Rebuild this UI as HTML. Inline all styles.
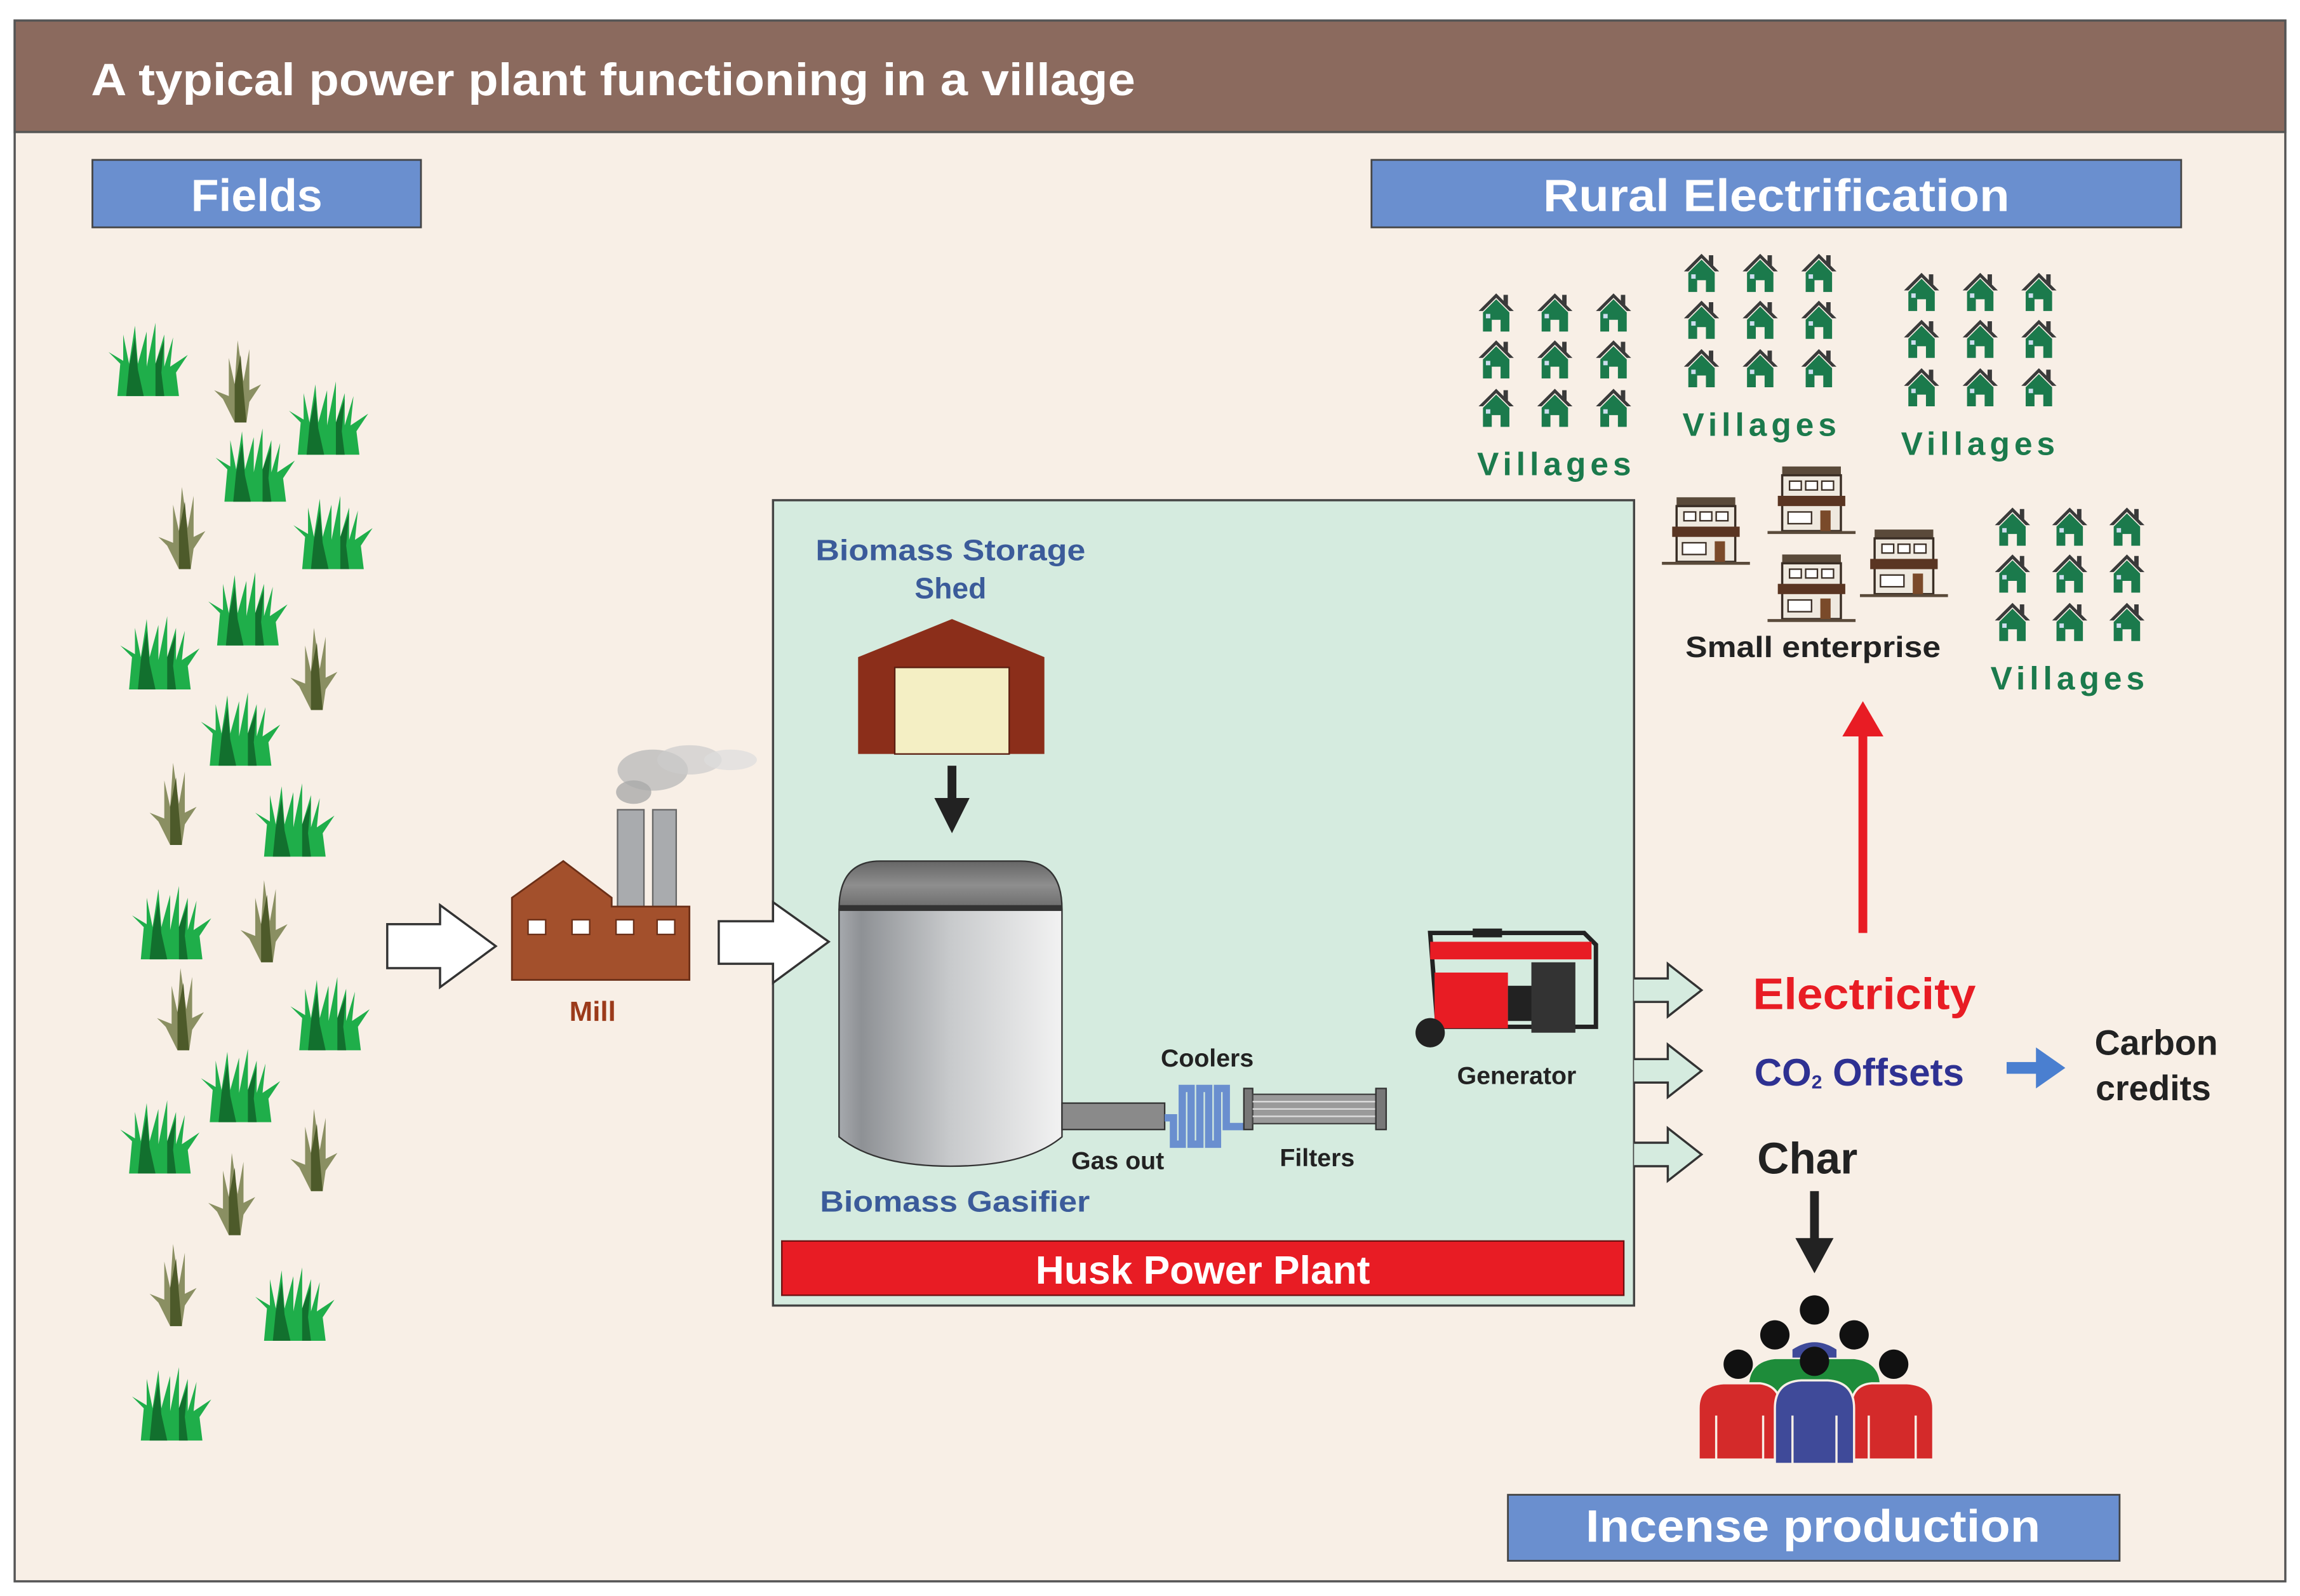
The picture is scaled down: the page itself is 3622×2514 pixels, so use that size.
<!DOCTYPE html>
<html><head><meta charset="utf-8"><style>
html,body{margin:0;padding:0;background:#fff}
svg{display:block}
text{font-family:"Liberation Sans",Arial,sans-serif;font-weight:bold}
</style></head><body>
<svg width="3622" height="2514" viewBox="0 0 1568 1088" preserveAspectRatio="none" xmlns="http://www.w3.org/2000/svg">
<defs>
<symbol id="grass" viewBox="0 0 60 52" overflow="visible">
<path d="M8 52 L10 30 L2 22 L12 28 L12 10 L16 30 L20 4 L22 30 L28 8 L28 32 L34 2 L34 30 L40 10 L40 32 L46 12 L44 32 L56 24 L48 36 L50 52 Z" fill="#1fae4a"/>
<path d="M14 52 L16 32 L20 12 L22 34 L26 52 Z M34 52 L34 30 L40 14 L38 36 L40 52Z" fill="#12702e"/>
</symbol>
<symbol id="reed" viewBox="0 0 40 56" overflow="visible">
<path d="M16 56 L8 40 L2 34 L12 38 L12 12 L16 30 L18 0 L22 28 L26 6 L26 34 L34 30 L26 42 L24 56Z" fill="#8a8f62"/>
<path d="M16 56 L16 30 L20 10 L22 34 L24 56Z" fill="#4d5a2a"/>
</symbol>
<symbol id="house" viewBox="0 0 26 28" overflow="visible">
<path d="M13 1 L1 13 L4 13 L13 4 L22 13 L25 13 Z" fill="#3a3a3a"/>
<rect x="18" y="2" width="3" height="7" fill="#3a3a3a"/>
<path d="M13 5 L4 14 L4 27 L10 27 L10 19 L16 19 L16 27 L22 27 L22 14 Z" fill="#1b7a4c"/>
<rect x="6" y="15" width="3" height="3" fill="#cde"/>
</symbol>
<symbol id="shop" viewBox="0 0 60 48" overflow="visible">
<rect x="10" y="2" width="40" height="6" fill="#5a4a3a"/>
<rect x="10" y="8" width="40" height="38" fill="#efe9df" stroke="#3a2e25" stroke-width="1.5"/>
<rect x="15" y="12" width="8" height="6" fill="#fff" stroke="#3a2e25"/>
<rect x="26" y="12" width="8" height="6" fill="#fff" stroke="#3a2e25"/>
<rect x="37" y="12" width="8" height="6" fill="#fff" stroke="#3a2e25"/>
<rect x="7" y="22" width="46" height="7" fill="#5a3522"/>
<rect x="14" y="33" width="16" height="8" fill="#fff" stroke="#3a2e25"/>
<rect x="36" y="32" width="7" height="14" fill="#7a4a2a"/>
<line x1="0" y1="47" x2="60" y2="47" stroke="#5a4a3a" stroke-width="2"/>
</symbol>
<linearGradient id="tank" x1="0" x2="1"><stop offset="0" stop-color="#a6a9ad"/><stop offset="0.1" stop-color="#8e9195"/><stop offset="0.5" stop-color="#c8cacc"/><stop offset="1" stop-color="#f2f2f2"/></linearGradient>
<linearGradient id="dome" x1="0" y1="0" x2="0" y2="1"><stop offset="0" stop-color="#666"/><stop offset="0.5" stop-color="#8e8e8e"/><stop offset="1" stop-color="#6a6a6a"/></linearGradient>
</defs>
<rect width="1568" height="1088" fill="#fff"/>
<rect x="10" y="14" width="1548" height="1064" fill="#f8efe6" stroke="#555" stroke-width="1.5"/>
<rect x="10" y="14" width="1548" height="76" fill="#8b6a5e" stroke="#555" stroke-width="1.5"/>
<text x="62" y="65" font-size="31" fill="#fff" textLength="712" lengthAdjust="spacingAndGlyphs">A typical power plant functioning in a village</text>
<rect x="63" y="109" width="224" height="46" fill="#6a8fcf" stroke="#444" stroke-width="1.2"/>
<text x="175" y="144" font-size="31" fill="#fff" text-anchor="middle">Fields</text>
<rect x="935" y="109" width="552" height="46" fill="#6a8fcf" stroke="#444" stroke-width="1.2"/>
<text x="1211" y="144" font-size="31" fill="#fff" text-anchor="middle" textLength="318" lengthAdjust="spacingAndGlyphs">Rural Electrification</text>
<!-- grass -->
<g>
<use href="#grass" x="72" y="218" width="60" height="52"/>
<use href="#reed" x="144" y="232" width="40" height="56"/>
<use href="#grass" x="195" y="258" width="60" height="52"/>
<use href="#grass" x="145" y="290" width="60" height="52"/>
<use href="#reed" x="106" y="332" width="40" height="56"/>
<use href="#grass" x="198" y="336" width="60" height="52"/>
<use href="#grass" x="140" y="388" width="60" height="52"/>
<use href="#grass" x="80" y="418" width="60" height="52"/>
<use href="#reed" x="196" y="428" width="40" height="56"/>
<use href="#grass" x="135" y="470" width="60" height="52"/>
<use href="#reed" x="100" y="520" width="40" height="56"/>
<use href="#grass" x="172" y="532" width="60" height="52"/>
<use href="#grass" x="88" y="602" width="60" height="52"/>
<use href="#reed" x="162" y="600" width="40" height="56"/>
<use href="#reed" x="105" y="660" width="40" height="56"/>
<use href="#grass" x="196" y="664" width="60" height="52"/>
<use href="#grass" x="135" y="713" width="60" height="52"/>
<use href="#grass" x="80" y="748" width="60" height="52"/>
<use href="#reed" x="196" y="756" width="40" height="56"/>
<use href="#reed" x="140" y="786" width="40" height="56"/>
<use href="#reed" x="100" y="848" width="40" height="56"/>
<use href="#grass" x="172" y="862" width="60" height="52"/>
<use href="#grass" x="88" y="930" width="60" height="52"/>
</g>
<path d="M264 630 L300 630 L300 617 L338 645 L300 673 L300 660 L264 660 Z" fill="#fff" stroke="#333" stroke-width="1.5"/>
<!-- mill -->
<ellipse cx="445" cy="525" rx="24" ry="14" fill="#bbb" opacity="0.8"/>
<ellipse cx="470" cy="518" rx="22" ry="10" fill="#ccc" opacity="0.7"/>
<ellipse cx="498" cy="518" rx="18" ry="7" fill="#ddd" opacity="0.7"/>
<ellipse cx="432" cy="540" rx="12" ry="8" fill="#aaa" opacity="0.8"/>
<rect x="421" y="552" width="18" height="70" fill="#a9abae" stroke="#666"/>
<rect x="445" y="552" width="16" height="70" fill="#a9abae" stroke="#666"/>
<path d="M349 668 L349 612 L384 587 L417 612 L417 618 L470 618 L470 668 Z" fill="#a3502c" stroke="#6b2f17" stroke-width="1.2"/>
<g fill="#fff" stroke="#6b2f17"><rect x="360" y="627" width="12" height="10"/><rect x="390" y="627" width="12" height="10"/><rect x="420" y="627" width="12" height="10"/><rect x="448" y="627" width="12" height="10"/></g>
<text x="404" y="696" font-size="19" fill="#9b3a1a" text-anchor="middle">Mill</text>
<!-- plant -->
<rect x="527" y="341" width="587" height="549" fill="#d5ebdf" stroke="#444" stroke-width="1.5"/>
<path d="M490 628 L527 628 L527 615 L565 642 L527 670 L527 657 L490 657 Z" fill="#fff" stroke="#333" stroke-width="1.5"/>
<text x="648" y="382" font-size="20" fill="#3b5b9a" text-anchor="middle" textLength="184" lengthAdjust="spacingAndGlyphs">Biomass Storage</text>
<text x="648" y="408" font-size="20" fill="#3b5b9a" text-anchor="middle">Shed</text>
<path d="M585 514 L585 448 L649 422 L712 448 L712 514 Z" fill="#8b2e1a"/>
<rect x="610" y="455" width="78" height="59" fill="#f4efc4" stroke="#5a1d10"/>
<rect x="646" y="522" width="6" height="24" fill="#222"/>
<path d="M637 544 L661 544 L649 568 Z" fill="#222"/>
<!-- gasifier -->
<path d="M572 620 Q572 587 600 587 L696 587 Q724 587 724 620 Z" fill="url(#dome)" stroke="#333"/>
<path d="M572 620 L724 620 L724 775 Q700 795 648 795 Q596 795 572 775 Z" fill="url(#tank)" stroke="#333"/>
<rect x="572" y="617" width="152" height="4" fill="#333"/>
<rect x="724" y="752" width="70" height="18" fill="#8a8a8a" stroke="#333"/>
<g fill="none" stroke="#6a8fcf" stroke-width="5">
<path d="M794 762 L800 762 L800 780 L806 780 L806 742 L812 742 L812 780 L818 780 L818 742 L824 742 L824 780 L830 780 L830 742 L836 742 L836 768 L848 768"/>
</g>
<rect x="848" y="742" width="6" height="28" fill="#777" stroke="#333"/>
<rect x="854" y="746" width="84" height="20" fill="#9a9a9a" stroke="#444"/>
<g stroke="#ddd"><line x1="854" y1="751" x2="938" y2="751"/><line x1="854" y1="756" x2="938" y2="756"/><line x1="854" y1="761" x2="938" y2="761"/></g>
<rect x="938" y="742" width="7" height="28" fill="#777" stroke="#333"/>
<text x="823" y="727" font-size="17" fill="#222" text-anchor="middle">Coolers</text>
<text x="762" y="797" font-size="17" fill="#222" text-anchor="middle">Gas out</text>
<text x="898" y="795" font-size="17" fill="#222" text-anchor="middle">Filters</text>
<text x="651" y="826" font-size="20" fill="#3b5b9a" text-anchor="middle" textLength="184" lengthAdjust="spacingAndGlyphs">Biomass Gasifier</text>
<!-- generator -->
<path d="M975 636 L1080 636 L1088 644 L1088 700 L980 700 Z" fill="none" stroke="#222" stroke-width="3"/>
<rect x="975" y="642" width="110" height="12" fill="#e81c24"/>
<rect x="1004" y="633" width="20" height="6" fill="#222"/>
<rect x="978" y="663" width="50" height="38" fill="#e81c24"/>
<rect x="1028" y="672" width="20" height="24" fill="#222"/>
<rect x="1044" y="656" width="30" height="48" fill="#333"/>
<circle cx="975" cy="704" r="10" fill="#222"/>
<text x="1034" y="739" font-size="17" fill="#222" text-anchor="middle">Generator</text>
<rect x="533" y="846" width="574" height="37" fill="#e81c24" stroke="#6b1010"/>
<text x="820" y="875" font-size="27" fill="#fff" text-anchor="middle">Husk Power Plant</text>
<!-- output arrows -->
<g fill="#d5ebdf" stroke="#333" stroke-width="1.5">
<path d="M1114 667 L1137 667 L1137 657 L1160 675 L1137 693 L1137 683 L1114 683"/>
<path d="M1114 722 L1137 722 L1137 712 L1160 730 L1137 748 L1137 738 L1114 738"/>
<path d="M1114 779 L1137 779 L1137 769 L1160 787 L1137 805 L1137 795 L1114 795"/>
</g>
<text x="1195" y="688" font-size="30" fill="#e81c24" textLength="152" lengthAdjust="spacingAndGlyphs">Electricity</text>
<text x="1196" y="740" font-size="26" fill="#2e3192">CO<tspan font-size="13" dy="2">2</tspan><tspan dy="-2"> Offsets</tspan></text>
<text x="1198" y="800" font-size="30" fill="#222">Char</text>
<rect x="1368" y="724" width="22" height="8" fill="#4a7fd0"/>
<path d="M1388 714 L1408 728 L1388 742 Z" fill="#4a7fd0"/>
<text x="1470" y="719" font-size="24" fill="#222" text-anchor="middle">Carbon</text>
<text x="1468" y="750" font-size="24" fill="#222" text-anchor="middle">credits</text>
<rect x="1267" y="500" width="6" height="136" fill="#e81c24"/>
<path d="M1256 502 L1270 478 L1284 502 Z" fill="#e81c24"/>
<rect x="1234" y="812" width="6" height="34" fill="#222"/>
<path d="M1224 844 L1250 844 L1237 868 Z" fill="#222"/>
<!-- people -->
<g>
<circle cx="1237" cy="893" r="10" fill="#111"/>
<circle cx="1210" cy="910" r="10" fill="#111"/>
<circle cx="1264" cy="910" r="10" fill="#111"/>
<path d="M1222 920 Q1237 910 1252 920 L1252 935 L1222 935 Z" fill="#3f4a99"/>
<path d="M1192 945 Q1192 928 1210 926 L1264 926 Q1282 928 1282 945 L1282 960 L1192 960 Z" fill="#1e8c3a" stroke="#f8efe6" stroke-width="1"/>
<circle cx="1185" cy="930" r="10" fill="#111"/>
<circle cx="1237" cy="928" r="10" fill="#111"/>
<circle cx="1291" cy="930" r="10" fill="#111"/>
<path d="M1158 995 L1158 960 Q1158 944 1175 943 L1200 943 Q1214 945 1214 960 L1214 995 Z" fill="#d42a2a" stroke="#f8efe6" stroke-width="1.5"/>
<path d="M1262 995 L1262 960 Q1262 944 1276 943 L1300 943 Q1318 944 1318 960 L1318 995 Z" fill="#d42a2a" stroke="#f8efe6" stroke-width="1.5"/>
<path d="M1210 998 L1210 960 Q1210 942 1228 941 L1246 941 Q1264 942 1264 960 L1264 998 Z" fill="#3f4a99" stroke="#f8efe6" stroke-width="1.5"/>
<g stroke="#f8efe6" stroke-width="1.5"><line x1="1170" y1="965" x2="1170" y2="995"/><line x1="1202" y1="965" x2="1202" y2="995"/><line x1="1222" y1="965" x2="1222" y2="998"/><line x1="1252" y1="965" x2="1252" y2="998"/><line x1="1274" y1="965" x2="1274" y2="995"/><line x1="1306" y1="965" x2="1306" y2="995"/></g>
</g>
<rect x="1028" y="1019" width="417" height="45" fill="#6a8fcf" stroke="#444" stroke-width="1.2"/>
<text x="1236" y="1051" font-size="31" fill="#fff" text-anchor="middle" textLength="310" lengthAdjust="spacingAndGlyphs">Incense production</text>
<!-- houses -->
<g>
<use href="#house" x="1007" y="199" width="26" height="28"/><use href="#house" x="1047" y="199" width="26" height="28"/><use href="#house" x="1087" y="199" width="26" height="28"/>
<use href="#house" x="1007" y="231" width="26" height="28"/><use href="#house" x="1047" y="231" width="26" height="28"/><use href="#house" x="1087" y="231" width="26" height="28"/>
<use href="#house" x="1007" y="264" width="26" height="28"/><use href="#house" x="1047" y="264" width="26" height="28"/><use href="#house" x="1087" y="264" width="26" height="28"/>
<use href="#house" x="1147" y="172" width="26" height="28"/><use href="#house" x="1187" y="172" width="26" height="28"/><use href="#house" x="1227" y="172" width="26" height="28"/>
<use href="#house" x="1147" y="204" width="26" height="28"/><use href="#house" x="1187" y="204" width="26" height="28"/><use href="#house" x="1227" y="204" width="26" height="28"/>
<use href="#house" x="1147" y="237" width="26" height="28"/><use href="#house" x="1187" y="237" width="26" height="28"/><use href="#house" x="1227" y="237" width="26" height="28"/>
<use href="#house" x="1297" y="185" width="26" height="28"/><use href="#house" x="1337" y="185" width="26" height="28"/><use href="#house" x="1377" y="185" width="26" height="28"/>
<use href="#house" x="1297" y="217" width="26" height="28"/><use href="#house" x="1337" y="217" width="26" height="28"/><use href="#house" x="1377" y="217" width="26" height="28"/>
<use href="#house" x="1297" y="250" width="26" height="28"/><use href="#house" x="1337" y="250" width="26" height="28"/><use href="#house" x="1377" y="250" width="26" height="28"/>
<use href="#house" x="1359" y="345" width="26" height="28"/><use href="#house" x="1398" y="345" width="26" height="28"/><use href="#house" x="1437" y="345" width="26" height="28"/>
<use href="#house" x="1359" y="377" width="26" height="28"/><use href="#house" x="1398" y="377" width="26" height="28"/><use href="#house" x="1437" y="377" width="26" height="28"/>
<use href="#house" x="1359" y="410" width="26" height="28"/><use href="#house" x="1398" y="410" width="26" height="28"/><use href="#house" x="1437" y="410" width="26" height="28"/>
</g>
<g font-size="22" fill="#1b7a4c" letter-spacing="3">
<text x="1007" y="324" textLength="108" lengthAdjust="spacingAndGlyphs">Villages</text>
<text x="1147" y="297" textLength="108" lengthAdjust="spacingAndGlyphs">Villages</text>
<text x="1296" y="310" textLength="108" lengthAdjust="spacingAndGlyphs">Villages</text>
<text x="1357" y="470" textLength="108" lengthAdjust="spacingAndGlyphs">Villages</text>
</g>
<use href="#shop" x="1133" y="337" width="60" height="48"/>
<use href="#shop" x="1205" y="316" width="60" height="48"/>
<use href="#shop" x="1205" y="376" width="60" height="48"/>
<use href="#shop" x="1268" y="359" width="60" height="48"/>
<text x="1236" y="448" font-size="20" fill="#222" text-anchor="middle" textLength="174" lengthAdjust="spacingAndGlyphs">Small enterprise</text>
</svg>
</body></html>
